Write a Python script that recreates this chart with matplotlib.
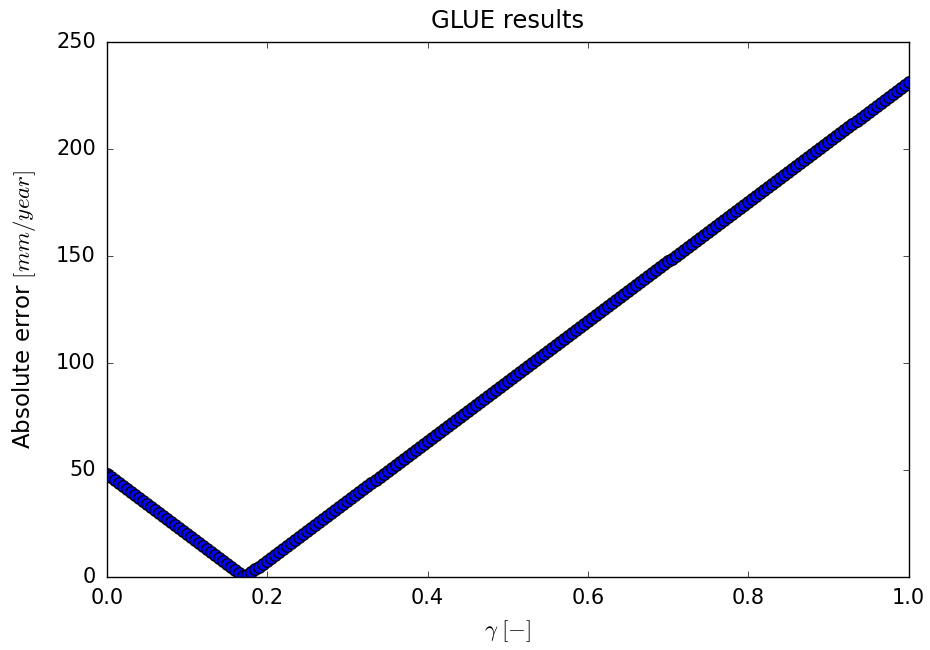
import matplotlib
matplotlib.use('Agg')
import matplotlib.pyplot as plt

plt.style.use('classic')

# gamma samples and absolute error (left branch, to the minimum)
gamma_left = [0.00, 0.005, 0.01, 0.015, 0.02, 0.025, 0.03, 0.035, 0.04, 0.045,
              0.05, 0.055, 0.06, 0.065, 0.07, 0.075, 0.08, 0.085, 0.09, 0.095,
              0.10, 0.105, 0.11, 0.115, 0.12, 0.125, 0.13, 0.135, 0.14, 0.145,
              0.15, 0.155, 0.16, 0.165, 0.17]
error_left = [48.1, 46.7, 45.3, 43.9, 42.5, 41.1, 39.7, 38.3, 36.9, 35.5,
              34.1, 32.7, 31.3, 29.9, 28.5, 27.1, 25.7, 24.3, 22.9, 21.5,
              20.2, 18.8, 17.4, 16.0, 14.6, 13.2, 11.8, 10.4, 9.0, 7.6,
              6.2, 4.8, 3.4, 2.0, 0.6]

# right branch, from the minimum up to gamma = 1
gamma_right = [0.175, 0.18, 0.185, 0.19, 0.195, 0.20, 0.205, 0.21, 0.215, 0.22,
               0.225, 0.23, 0.235, 0.24, 0.245, 0.25, 0.255, 0.26, 0.265, 0.27,
               0.275, 0.28, 0.285, 0.29, 0.295, 0.30, 0.305, 0.31, 0.315, 0.32,
               0.325, 0.33, 0.335, 0.34, 0.345, 0.35, 0.355, 0.36, 0.365, 0.37,
               0.375, 0.38, 0.385, 0.39, 0.395, 0.40, 0.405, 0.41, 0.415, 0.42,
               0.425, 0.43, 0.435, 0.44, 0.445, 0.45, 0.455, 0.46, 0.465, 0.47,
               0.475, 0.48, 0.485, 0.49, 0.495, 0.50, 0.505, 0.51, 0.515, 0.52,
               0.525, 0.53, 0.535, 0.54, 0.545, 0.55, 0.555, 0.56, 0.565, 0.57,
               0.575, 0.58, 0.585, 0.59, 0.595, 0.60, 0.605, 0.61, 0.615, 0.62,
               0.625, 0.63, 0.635, 0.64, 0.645, 0.65, 0.655, 0.66, 0.665, 0.67,
               0.675, 0.68, 0.685, 0.69, 0.695, 0.70, 0.705, 0.71, 0.715, 0.72,
               0.725, 0.73, 0.735, 0.74, 0.745, 0.75, 0.755, 0.76, 0.765, 0.77,
               0.775, 0.78, 0.785, 0.79, 0.795, 0.80, 0.805, 0.81, 0.815, 0.82,
               0.825, 0.83, 0.835, 0.84, 0.845, 0.85, 0.855, 0.86, 0.865, 0.87,
               0.875, 0.88, 0.885, 0.89, 0.895, 0.90, 0.905, 0.91, 0.915, 0.92,
               0.925, 0.93, 0.935, 0.94, 0.945, 0.95, 0.955, 0.96, 0.965, 0.97,
               0.975, 0.98, 0.985, 0.99, 0.995, 1.00]
error_right = [0.8, 2.2, 3.6, 5.0, 6.4, 7.8, 9.2, 10.6, 12.0, 13.4,
               14.8, 16.2, 17.6, 19.0, 20.4, 21.8, 23.2, 24.6, 26.0, 27.4,
               28.8, 30.2, 31.6, 33.0, 34.4, 35.8, 37.1, 38.5, 39.9, 41.3,
               42.7, 44.1, 45.5, 46.9, 48.3, 49.7, 51.1, 52.5, 53.9, 55.3,
               56.7, 58.1, 59.5, 60.9, 62.3, 63.7, 65.1, 66.5, 67.9, 69.3,
               70.7, 72.1, 73.5, 74.9, 76.3, 77.7, 79.1, 80.5, 81.9, 83.3,
               84.7, 86.1, 87.5, 88.9, 90.3, 91.7, 93.0, 94.4, 95.8, 97.2,
               98.6, 100.0, 101.4, 102.8, 104.2, 105.6, 107.0, 108.4, 109.8, 111.2,
               112.6, 114.0, 115.4, 116.8, 118.2, 119.6, 121.0, 122.4, 123.8, 125.2,
               126.6, 128.0, 129.4, 130.8, 132.2, 133.6, 135.0, 136.4, 137.8, 139.2,
               140.6, 142.0, 143.4, 144.8, 146.2, 147.6, 148.9, 150.3, 151.7, 153.1,
               154.5, 155.9, 157.3, 158.7, 160.1, 161.5, 162.9, 164.3, 165.7, 167.1,
               168.5, 169.9, 171.3, 172.7, 174.1, 175.5, 176.9, 178.3, 179.7, 181.1,
               182.5, 183.9, 185.3, 186.7, 188.1, 189.5, 190.9, 192.3, 193.7, 195.1,
               196.5, 197.9, 199.3, 200.7, 202.1, 203.5, 204.8, 206.2, 207.6, 209.0,
               210.4, 211.8, 213.2, 214.6, 216.0, 217.4, 218.8, 220.2, 221.6, 223.0,
               224.4, 225.8, 227.2, 228.6, 230.0, 231.4]

gamma = gamma_left + gamma_right
abs_error = error_left + error_right

fig = plt.figure(figsize=(9.3, 6.5), dpi=100, facecolor='white')
ax = fig.add_axes([0.115, 0.112, 0.862, 0.823])
ax.scatter(gamma, abs_error, s=70, c='b', edgecolors='k')
ax.set_xlim(0, 1)
ax.set_ylim(0, 250)
ax.set_title('GLUE results', fontsize=17.5, pad=10)
ax.set_xlabel(r'$\gamma\;[-]$', fontsize=16.5, labelpad=7)
ax.set_ylabel(r'Absolute error $[mm/year]$', fontsize=16.5, labelpad=13)
ax.tick_params(labelsize=15)
ax.tick_params(axis='x', pad=8)
ax.tick_params(axis='y', pad=8)
fig.savefig('out.png', dpi=100, facecolor='white')
